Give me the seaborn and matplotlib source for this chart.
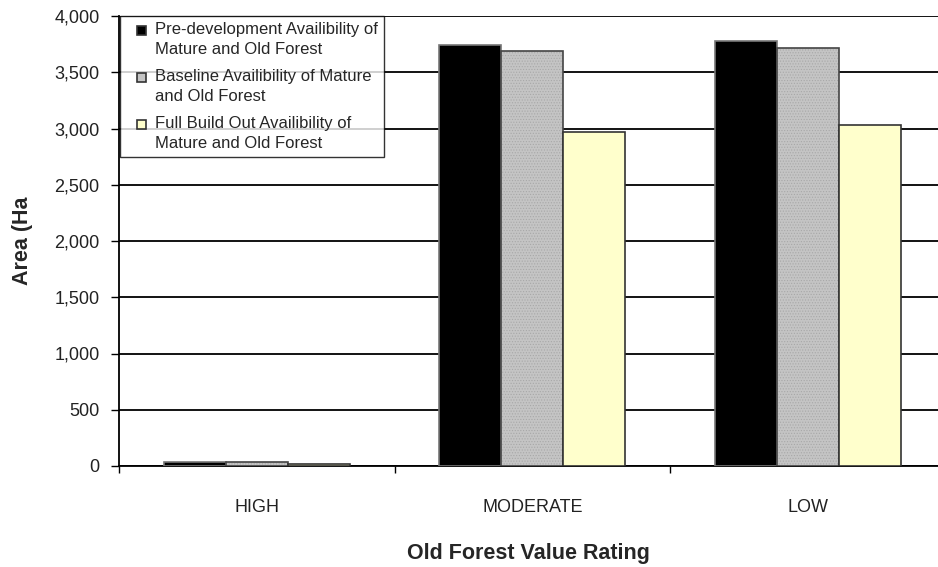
import matplotlib
matplotlib.use("Agg")
import matplotlib.pyplot as plt
import matplotlib.colors as mcolors
from matplotlib.patches import Rectangle
from matplotlib.legend_handler import HandlerPatch
from matplotlib.ticker import FuncFormatter, FixedLocator
import seaborn as sns
import pandas as pd

categories = ["HIGH", "MODERATE", "LOW"]
series = [
    "Pre-development Availibility of\nMature and Old Forest",
    "Baseline Availibility of Mature\nand Old Forest",
    "Full Build Out Availibility of\nMature and Old Forest",
]
pre_dev = [40, 3745, 3780]
baseline = [35, 3690, 3720]
build_out = [20, 2965, 3030]

rows = []
for s, vals in zip(series, [pre_dev, baseline, build_out]):
    for c, v in zip(categories, vals):
        rows.append({"rating": c, "series": s, "area": v})
df = pd.DataFrame(rows)

sns.set_style("white")
plt.rcParams["font.family"] = ["Liberation Sans", "DejaVu Sans"]
plt.rcParams["hatch.linewidth"] = 0.5

fig = plt.figure(figsize=(9.38, 5.67), dpi=100)
ax = fig.add_axes([119 / 938, 1 - 466 / 567, 1 - 119 / 938, 450 / 567])

palette = ["#000000", "#c4c4c4", "#ffffcc"]
sns.barplot(data=df, x="rating", y="area", hue="series", order=categories,
            hue_order=series, palette=palette, width=0.675, gap=0,
            saturation=1, edgecolor="#333333", linewidth=1.2, ax=ax, zorder=3)

for bar in ax.containers[0]:
    bar.set_edgecolor("#777777")
# grey bars get the fine dither look, hatch lighter than the outline
for bar in ax.containers[1]:
    bar.set_hatch("......")
    bar.set_edgecolor("#444444")
    bar._hatch_color = mcolors.to_rgba("#a8a8a8")

ax.set_ylim(0, 4000)
ax.set_xlim(-0.5, 2.472)
ax.set_yticks(range(0, 4001, 500))
ax.yaxis.set_major_formatter(FuncFormatter(lambda v, p: f"{int(v):,}"))
ax.grid(axis="y", color="black", linewidth=1.3, zorder=0)
ax.set_axisbelow(True)

for sp in ["right", "top"]:
    ax.spines[sp].set_visible(False)
for sp in ["left", "bottom"]:
    ax.spines[sp].set_color("black")
    ax.spines[sp].set_linewidth(1.3)

ax.tick_params(axis="y", direction="out", length=6, width=1, color="black",
               left=True, labelsize=13, labelcolor="#222222", pad=8)
ax.tick_params(axis="x", which="major", length=0, labelsize=13,
               labelcolor="#222222", pad=24)
ax.xaxis.set_minor_locator(FixedLocator([-0.5, 0.5, 1.5]))
ax.tick_params(axis="x", which="minor", direction="out", length=5, width=1,
               color="black", bottom=True)

ax.set_xlabel("Old Forest Value Rating", fontsize=15.5, fontweight="bold",
              labelpad=19)
ax.set_ylabel("Area (Ha", fontsize=15.5, fontweight="bold", labelpad=15)


# small square key, sitting level with the first text line
def square_key(legend, orig_handle, xdescent, ydescent, width, height, fontsize):
    s = 0.55 * fontsize
    return Rectangle((width - s, height / 2 - s / 2 + 0.6 * fontsize), s, s)


leg = ax.legend(loc="upper left", bbox_to_anchor=(0.001, 1.0), fontsize=12,
                frameon=True, fancybox=False, edgecolor="black",
                handlelength=1.25, handleheight=0.55, handletextpad=0.5,
                labelspacing=0.7, borderpad=0.35, borderaxespad=0.0,
                handler_map={Rectangle: HandlerPatch(patch_func=square_key)})
leg.get_frame().set_linewidth(1.0)
for t in leg.get_texts():
    t.set_linespacing(1.45)

fig.savefig("out.png", dpi=100)
